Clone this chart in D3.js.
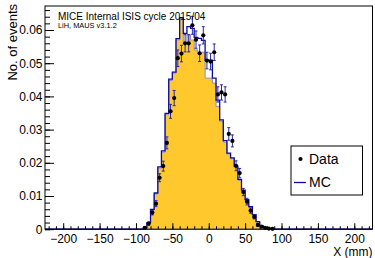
<!DOCTYPE html>
<html>
<head>
<meta charset="utf-8">
<script src="https://cdn.jsdelivr.net/npm/d3@7"></script>
<style>
  body { margin: 0; background: #fff; }
  svg { display: block; font-family: "Liberation Sans", Arial, sans-serif; }
</style>
</head>
<body>
<div id="chart"></div>
<script>
// bin centres (mm), 5 mm bins
var binCenters = [-87.5, -82.5, -77.5, -72.5, -67.5, -62.5, -57.5, -52.5, -47.5, -42.5,
                  -37.5, -32.5, -27.5, -22.5, -17.5, -12.5, -7.5, -2.5, 2.5, 7.5,
                  12.5, 17.5, 22.5, 27.5, 32.5, 37.5, 42.5, 47.5, 52.5, 57.5,
                  62.5, 67.5, 72.5, 77.5, 82.5, 87.5];
var binWidth = 5;

// data points and errors
var dataVals = [0.0004, 0.0017, 0.0050, 0.0077, 0.0155, 0.0190, 0.0260, 0.0355, 0.0395, 0.0515,
                0.0529, 0.0560, 0.0560, 0.0614, 0.0571, 0.0530, 0.0584, 0.0508, 0.0505, 0.0533,
                0.0406, 0.0412, 0.0406, 0.0287, 0.0266, 0.0191, 0.0169, 0.0112, 0.0083, 0.0056,
                0.0037, 0.0013, 0.0008, 0.0004, 0.0002, 0.0001];
var dataErrs = [0.0003, 0.0005, 0.0007, 0.0009, 0.0012, 0.0015, 0.0018, 0.0021, 0.0023, 0.0025,
                0.0025, 0.0026, 0.0026, 0.0027, 0.0026, 0.0025, 0.0026, 0.0025, 0.0025, 0.0025,
                0.0023, 0.0023, 0.0023, 0.0019, 0.0018, 0.0015, 0.0014, 0.0011, 0.0010, 0.0008,
                0.0006, 0.0004, 0.0003, 0.0002, 0.0002, 0.0001];

// MC histogram (blue line)
var mcVals = [0.0005, 0.0020, 0.0060, 0.0109, 0.0188, 0.0236, 0.0349, 0.0452, 0.0473, 0.0574,
              0.0637, 0.0590, 0.0610, 0.0605, 0.0578, 0.0575, 0.0569, 0.0509, 0.0509, 0.0455,
              0.0389, 0.0329, 0.0267, 0.0229, 0.0215, 0.0190, 0.0150, 0.0118, 0.0089, 0.0068,
              0.0044, 0.0023, 0.0010, 0.0004, 0.0001, 0.0000];

// filled histogram (yellow)
var fillVals = [0.0005, 0.0019, 0.0058, 0.0106, 0.0184, 0.0232, 0.0345, 0.0448, 0.0470, 0.0570,
                0.0634, 0.0560, 0.0585, 0.0570, 0.0540, 0.0530, 0.0533, 0.0455, 0.0455, 0.0440,
                0.0370, 0.0325, 0.0262, 0.0226, 0.0212, 0.0187, 0.0147, 0.0116, 0.0087, 0.0066,
                0.0042, 0.0022, 0.0009, 0.0004, 0.0001, 0.0000];

var xTicks = [-200, -150, -100, -50, 0, 50, 100, 150, 200];
var yTicks = [0, 0.01, 0.02, 0.03, 0.04, 0.05, 0.06];
var yTickLabels = ["0", "0.01", "0.02", "0.03", "0.04", "0.05", "0.06"];

var width = 375, height = 258;
var padL = 45, padR = 372.5, padT = 6, padB = 229.2;

var svg = d3.select("#chart").append("svg")
    .attr("width", width)
    .attr("height", height);

var x = d3.scaleLinear().domain([-225, 225]).range([padL, padR]);
var y = d3.scaleLinear().domain([0, 0.06723]).range([padB, padT]);

// step points for a histogram, padded with zeros to the axis ends
function steps(vals) {
    var pts = [[-225, 0]];
    vals.forEach(function(v, i) {
        pts.push([binCenters[i] - binWidth / 2, v]);
    });
    pts.push([binCenters[binCenters.length - 1] + binWidth / 2, 0]);
    pts.push([225, 0]);
    return pts;
}

var area = d3.area()
    .curve(d3.curveStepAfter)
    .x(function(d) { return x(d[0]); })
    .y0(y(0))
    .y1(function(d) { return y(d[1]); });

var line = d3.line()
    .curve(d3.curveStepAfter)
    .x(function(d) { return x(d[0]); })
    .y(function(d) { return y(d[1]); });

svg.append("path")
    .attr("d", area(steps(fillVals)))
    .style("fill", "#ffc92e")
    .style("stroke", "#8c8cc8")
    .style("stroke-width", 1);

svg.append("path")
    .attr("d", line(steps(mcVals)))
    .style("fill", "none")
    .style("stroke", "#0c0c9c")
    .style("stroke-width", 1.3);

// axes, ROOT style: ticks inside
var xMinor = d3.range(-220, 221, 10);
svg.append("g")
    .attr("transform", "translate(0," + padB + ")")
    .call(d3.axisBottom(x).tickValues(xMinor).tickSize(-3).tickFormat(""))
    .call(function(g) { g.select(".domain").remove(); });

svg.append("g")
    .attr("class", "xaxis")
    .attr("transform", "translate(0," + padB + ")")
    .call(d3.axisBottom(x).tickValues(xTicks).tickSize(-6).tickPadding(5))
    .call(function(g) { g.select(".domain").remove(); });

var yMinor = d3.range(0, 0.0671, 0.002);
svg.append("g")
    .attr("transform", "translate(" + padL + ",0)")
    .call(d3.axisLeft(y).tickValues(yMinor).tickSize(-5).tickFormat(""))
    .call(function(g) { g.select(".domain").remove(); });

svg.append("g")
    .attr("class", "yaxis")
    .attr("transform", "translate(" + padL + ",0)")
    .call(d3.axisLeft(y).tickValues(yTicks).tickSize(-9).tickPadding(2.5)
        .tickFormat(function(d, i) { return yTickLabels[i]; }))
    .call(function(g) { g.select(".domain").remove(); });

svg.selectAll(".tick line").style("stroke", "#000");
svg.selectAll(".tick text")
    .style("font-size", "12px")
    .style("font-family", "'Liberation Sans', Arial, sans-serif")
    .style("fill", "#000");

// frame
svg.append("rect")
    .attr("x", padL)
    .attr("y", padT)
    .attr("width", padR - padL)
    .attr("height", padB - padT)
    .style("fill", "none")
    .style("stroke", "#000")
    .style("stroke-width", 1);

// data points
var pts = binCenters.map(function(c, i) {
    return { x: c, v: dataVals[i], e: dataErrs[i] };
});

var eb = svg.append("g").selectAll("g")
    .data(pts)
    .enter().append("g")
    .style("stroke", "#2a2aa8")
    .style("stroke-width", 1);

eb.append("line")
    .attr("x1", function(d) { return x(d.x); })
    .attr("x2", function(d) { return x(d.x); })
    .attr("y1", function(d) { return y(d.v - d.e); })
    .attr("y2", function(d) { return y(d.v + d.e); });
eb.append("line")
    .attr("x1", function(d) { return x(d.x) - 1.5; })
    .attr("x2", function(d) { return x(d.x) + 1.5; })
    .attr("y1", function(d) { return y(d.v + d.e); })
    .attr("y2", function(d) { return y(d.v + d.e); });
eb.append("line")
    .attr("x1", function(d) { return x(d.x) - 1.5; })
    .attr("x2", function(d) { return x(d.x) + 1.5; })
    .attr("y1", function(d) { return y(Math.max(d.v - d.e, 0)); })
    .attr("y2", function(d) { return y(Math.max(d.v - d.e, 0)); });

svg.append("g").selectAll("circle")
    .data(pts)
    .enter().append("circle")
    .attr("cx", function(d) { return x(d.x); })
    .attr("cy", function(d) { return y(d.v); })
    .attr("r", 2.1)
    .style("fill", "#000");

// texts
svg.append("text")
    .attr("x", 58)
    .attr("y", 20)
    .style("font-size", "10px")
    .text("MICE Internal ISIS cycle 2015/04");

svg.append("text")
    .attr("x", 58)
    .attr("y", 27.5)
    .style("font-size", "7.4px")
    .text("LiH, MAUS v3.1.2");

svg.append("text")
    .attr("transform", "translate(17,4) rotate(-90)")
    .attr("text-anchor", "end")
    .style("font-size", "13px")
    .text("No. of events");

svg.append("text")
    .attr("x", padR)
    .attr("y", 256)
    .attr("text-anchor", "end")
    .style("font-size", "12px")
    .text("X (mm)");

// legend
var lg = svg.append("g");
lg.append("rect")
    .attr("x", 291)
    .attr("y", 146)
    .attr("width", 71.5)
    .attr("height", 49)
    .style("fill", "#fff")
    .style("stroke", "#000")
    .style("stroke-width", 1);
lg.append("circle")
    .attr("cx", 300.5)
    .attr("cy", 159)
    .attr("r", 2.1)
    .style("fill", "#000");
lg.append("text")
    .attr("x", 309)
    .attr("y", 163.5)
    .style("font-size", "14px")
    .text("Data");
lg.append("line")
    .attr("x1", 294)
    .attr("x2", 306)
    .attr("y1", 182.5)
    .attr("y2", 182.5)
    .style("stroke", "#0c0c9c")
    .style("stroke-width", 1.3);
lg.append("text")
    .attr("x", 309)
    .attr("y", 187)
    .style("font-size", "14px")
    .text("MC");
</script>
</body>
</html>
